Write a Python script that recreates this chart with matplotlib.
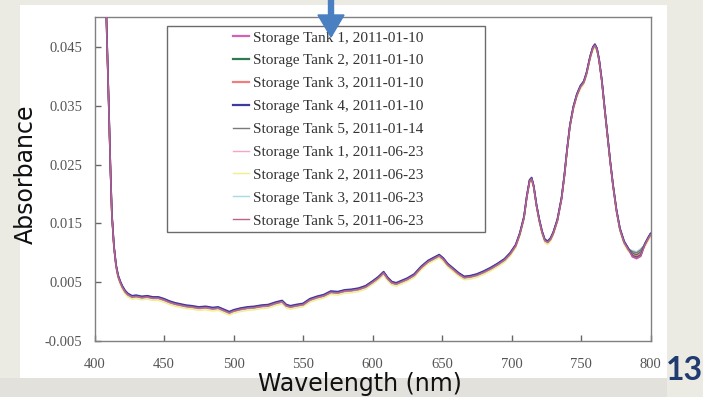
import numpy as np
import matplotlib.pyplot as plt
from matplotlib.patches import Rectangle, FancyArrow

# wavelength grid (nm) and the common spectrum
wavelength = [404, 406, 408, 409, 410.5, 411.5, 412.5, 414, 415.5, 417, 418.5, 420, 422, 424, 427,
              430, 434, 438, 442, 446, 450, 454, 458, 462, 466, 470, 475, 480, 485, 489, 493, 497,
              500, 505, 510, 515, 520, 525, 530, 535, 538, 541, 545, 550, 555, 560, 565, 570, 575,
              580, 585, 590, 595, 600, 604, 608, 611, 614, 617, 620, 625, 630, 635, 640, 644, 648,
              651, 654, 658, 662, 666, 670, 675, 680, 685, 690, 695, 699, 703, 706, 709, 711, 713,
              714.5, 716, 718, 720, 722, 724, 726, 728, 730, 733, 736, 738, 740, 742, 744.5, 747,
              749.5, 752, 754, 756.5, 758.5, 760, 761.5, 763, 765, 767, 769, 771, 773, 775.5, 778,
              781, 784, 787, 790, 793, 796, 798.5, 800]
base = [0.095, 0.075, 0.055, 0.046, 0.033, 0.024, 0.0165, 0.011, 0.0078, 0.0060, 0.0050, 0.0042,
        0.0034, 0.0029, 0.0025,
        0.0026, 0.0024, 0.0025, 0.0023, 0.0023, 0.0020, 0.0016, 0.0013, 0.0011, 0.0009, 0.0008,
        0.0006, 0.0007, 0.0005, 0.0006, 0.0002, -0.0002,
        0.0001, 0.0004, 0.0006, 0.0007, 0.0009, 0.0010, 0.0014, 0.0017, 0.0010, 0.0008, 0.0010,
        0.0012, 0.0020, 0.0024, 0.0027, 0.0033, 0.0032,
        0.0035, 0.0036, 0.0038, 0.0042, 0.0050, 0.0057, 0.0066, 0.0056, 0.0049, 0.0047, 0.0050,
        0.0055, 0.0062, 0.0075, 0.0085, 0.0090, 0.0095,
        0.0089, 0.0080, 0.0072, 0.0064, 0.0058, 0.0059, 0.0062, 0.0067, 0.0073, 0.0080, 0.0088,
        0.0098, 0.0112, 0.0132, 0.0160, 0.0195, 0.0222,
        0.0226, 0.0212, 0.0180, 0.0155, 0.0135, 0.0121, 0.0118, 0.0123, 0.0133, 0.0155, 0.0192,
        0.0230, 0.0275, 0.0315, 0.0347, 0.0368,
        0.0382, 0.0390, 0.0405, 0.0432, 0.0448, 0.0453, 0.0446, 0.0428, 0.0392, 0.0345, 0.0300,
        0.0255, 0.0215, 0.0172, 0.0140,
        0.0118, 0.0106, 0.0099, 0.0096, 0.0101, 0.0114, 0.0125, 0.0131]

labels = ['Storage Tank 1, 2011-01-10', 'Storage Tank 2, 2011-01-10', 'Storage Tank 3, 2011-01-10',
          'Storage Tank 4, 2011-01-10', 'Storage Tank 5, 2011-01-14', 'Storage Tank 1, 2011-06-23',
          'Storage Tank 2, 2011-06-23', 'Storage Tank 3, 2011-06-23', 'Storage Tank 5, 2011-06-23']
# small per-sample differences: overall shift and the values in the 787-793 nm dip
shift = [0.0001, 0.0, 0.0, 0.0002, 0.0001, -0.0001, -0.0004, -0.0001, 0.0]
dip = [[0.0093, 0.0090, 0.0094], [0.0099, 0.0096, 0.0101], [0.0097, 0.0094, 0.0099],
       [0.0095, 0.0092, 0.0096], [0.0102, 0.0100, 0.0105], [0.0101, 0.0098, 0.0103],
       [0.0100, 0.0097, 0.0102], [0.0104, 0.0102, 0.0107], [0.0094, 0.0091, 0.0095]]

colors = ['#d660b2', '#2f7a50', '#ef7f7f', '#3b3ba0', '#7a7a7a',
          '#f4a6c8', '#f1ef8a', '#a8dbe8', '#b8648c']
widths = [1.6, 1.6, 1.6, 1.6, 1.0, 1.0, 1.0, 1.0, 1.0]
zorders = [6, 4, 5, 7, 3, 2, 1, 2, 8]

fig = plt.figure(figsize=(7.03, 3.97), dpi=100, facecolor='#ecebe3')
fig.patches.append(Rectangle((20 / 703, 1 - 378 / 397), 647 / 703, 373 / 397,
                             transform=fig.transFigure, facecolor='white', edgecolor='none', zorder=-2))
fig.patches.append(Rectangle((0, 0), 667 / 703, 19 / 397,
                             transform=fig.transFigure, facecolor='#e2e1dc', edgecolor='none', zorder=-2))

ax = fig.add_axes([94.5 / 703, 1 - 341 / 397, 556 / 703, 324 / 397])
ax.set_facecolor('white')

x = np.array(wavelength)
for i in range(len(labels)):
    y = np.array(base) + shift[i]
    y[(x >= 787) & (x <= 793)] = dip[i]
    lw_plot = 1.2 if widths[i] > 1.2 else widths[i]
    line, = ax.plot(x, y, color=colors[i], lw=lw_plot, label=labels[i], zorder=zorders[i])

ax.set_xlim(400, 800)
ax.set_ylim(-0.005, 0.0501)
ax.set_xticks(range(400, 801, 50))
ax.set_yticks([-0.005, 0.005, 0.015, 0.025, 0.035, 0.045])
ax.set_yticklabels(['-0.005', '0.005', '0.015', '0.025', '0.035', '0.045'])
ax.tick_params(direction='in', length=4, width=1, color='#666666', labelcolor='#555555',
               labelsize=10.5)
ax.tick_params(axis='y', pad=9)
ax.tick_params(axis='x', pad=12)
for lab in ax.get_xticklabels() + ax.get_yticklabels():
    lab.set_family('Liberation Serif')
for s in ax.spines.values():
    s.set_color('#808080')
    s.set_linewidth(1)

leg = ax.legend(loc='upper left', bbox_to_anchor=(0.249, 0.957), frameon=False,
                prop={'family': 'Liberation Serif', 'size': 11}, handlelength=1.05,
                handletextpad=0.26, labelspacing=0.6, borderpad=0, borderaxespad=0)
for t, h, w in zip(leg.get_texts(), leg.get_lines(), widths):
    t.set_color('#333333')
    h.set_linewidth(w)
ax.add_patch(Rectangle((0.130, 0.336), 0.572, 0.636, transform=ax.transAxes,
                       facecolor='white', edgecolor='#6b6b6b', lw=1, zorder=9))
leg.set_zorder(10)

fig.text(360 / 703, 1 - 391.5 / 397, 'Wavelength (nm)', fontsize=17, color='#111111',
         ha='center', va='baseline')
fig.text(26 / 703, 1 - 174 / 397, 'Absorbance', fontsize=17, color='#111111',
         rotation=90, ha='center', va='center')
fig.text(684 / 703, 1 - 371 / 397, '13', fontsize=23, fontweight='bold', color='#1f3b70',
         family='Lato', ha='center', va='center')

fig.patches.append(FancyArrow(331 / 703, 1.0, 0, -37 / 397, width=5 / 703, head_width=26 / 703,
                              head_length=22 / 397, length_includes_head=True,
                              transform=fig.transFigure, color='#4a7fc1', zorder=20))

fig.savefig('out.png', dpi=100, facecolor=fig.get_facecolor())
